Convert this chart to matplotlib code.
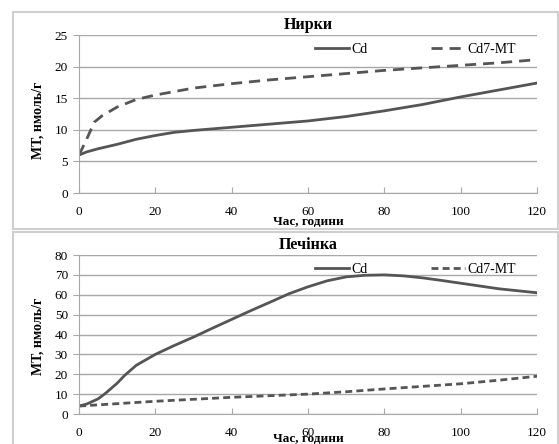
import numpy as np
import matplotlib.pyplot as plt
from matplotlib.patches import Rectangle

# kidneys (Нирки)
hours_kid = [0, 2, 5, 10, 15, 20, 25, 30, 40, 50, 60, 70, 80, 90, 100, 110, 120]
cd_kid = [6.0, 6.5, 7.0, 7.7, 8.5, 9.1, 9.6, 9.9, 10.4, 10.9, 11.4, 12.1, 13.0, 14.0, 15.2, 16.3, 17.4]
hours_kid_mt = [0, 2, 4, 6, 10, 15, 20, 30, 40, 50, 60, 70, 80, 90, 100, 110, 120]
mt_kid = [6.0, 8.5, 11.2, 12.2, 13.6, 14.8, 15.5, 16.6, 17.3, 17.9, 18.4, 18.9, 19.4, 19.8, 20.2, 20.6, 21.1]

# liver (Печінка)
hours_liv = [0, 2, 5, 7, 10, 12, 15, 20, 25, 30, 35, 40, 45, 50, 55, 60, 65, 70, 75, 80,
             85, 90, 95, 100, 105, 110, 115, 120]
cd_liv = [4.0, 5.0, 7.6, 10.5, 15.5, 19.5, 24.5, 30.0, 34.5, 38.7, 43.2, 47.6, 52.0, 56.2,
          60.5, 64.0, 67.0, 69.0, 69.8, 70.0, 69.5, 68.5, 67.2, 65.8, 64.4, 63.0, 62.0, 61.0]
hours_liv_mt = [0, 10, 20, 30, 40, 50, 60, 70, 80, 90, 100, 110, 120]
mt_liv = [4.0, 5.2, 6.4, 7.4, 8.4, 9.2, 10.0, 11.2, 12.6, 13.9, 15.2, 17.0, 19.0]

xticks = [0, 20, 40, 60, 80, 100, 120]
W, H = 559, 444
line_col = "#555555"
grid_col = "#a8a8a8"

plt.rcParams['font.family'] = ['Liberation Serif', 'DejaVu Serif']
fig = plt.figure(figsize=(W / 100, H / 100), dpi=100)

def fx(px):
    return px / W

def fy(py):
    return 1 - py / H

# panel frames
fig.patches.append(Rectangle((fx(13), fy(229)), fx(545), fy(12) - fy(229), transform=fig.transFigure,
                             fill=False, edgecolor="#cfcfcf", lw=1.5))
fig.patches.append(Rectangle((fx(13), fy(446)), fx(545), fy(232) - fy(446), transform=fig.transFigure,
                             fill=False, edgecolor="#cfcfcf", lw=1.5))

def panel(top, bottom, title, ymax, ystep, series, ylab_y, xlab_y):
    ax = fig.add_axes([fx(79), fy(bottom), fx(537) - fx(79), fy(top) - fy(bottom)])
    for xs, ys, ls in series:
        ax.plot(xs, ys, color=line_col, lw=2.0, linestyle=ls)
    ax.set_xlim(0, 120)
    ax.set_ylim(0, ymax)
    ax.set_xticks(xticks)
    ax.set_yticks(np.arange(0, ymax + 1, ystep))
    ax.yaxis.grid(True, color=grid_col, lw=1.0)
    ax.set_axisbelow(True)
    for s in ["top", "right"]:
        ax.spines[s].set_visible(False)
    for s in ["left", "bottom"]:
        ax.spines[s].set_color(grid_col)
    ax.tick_params(axis="x", direction="in", length=4, color=grid_col, labelsize=9.5, pad=9)
    ax.tick_params(axis="y", direction="out", length=4, color=grid_col, labelsize=9.5, pad=4)
    ax.set_title(title, fontsize=11.5, fontweight="bold", pad=4)
    ax.set_ylabel("МТ, нмоль/г", fontsize=10, fontweight="bold")
    ax.yaxis.set_label_coords(-0.076, ylab_y)
    ax.set_xlabel("Час, години", fontsize=9.5, fontweight="bold")
    ax.xaxis.set_label_coords(0.501, xlab_y)
    ax.legend(["Cd", "Cd7-MT"], ncol=2, frameon=False, fontsize=10, loc="center",
              bbox_to_anchor=(0.735, 0.91), handlelength=2.4, handletextpad=0.2,
              columnspacing=4.6)
    return ax

panel(35, 193, "Нирки", 25, 5,
      [(hours_kid, cd_kid, "-"), (hours_kid_mt, mt_kid, (0, (4, 2.5)))], 0.46, -0.145)
panel(255, 414, "Печінка", 80, 10,
      [(hours_liv, cd_liv, "-"), (hours_liv_mt, mt_liv, (0, (2.5, 1.5)))], 0.49, -0.12)

fig.savefig("out.png", dpi=100)
